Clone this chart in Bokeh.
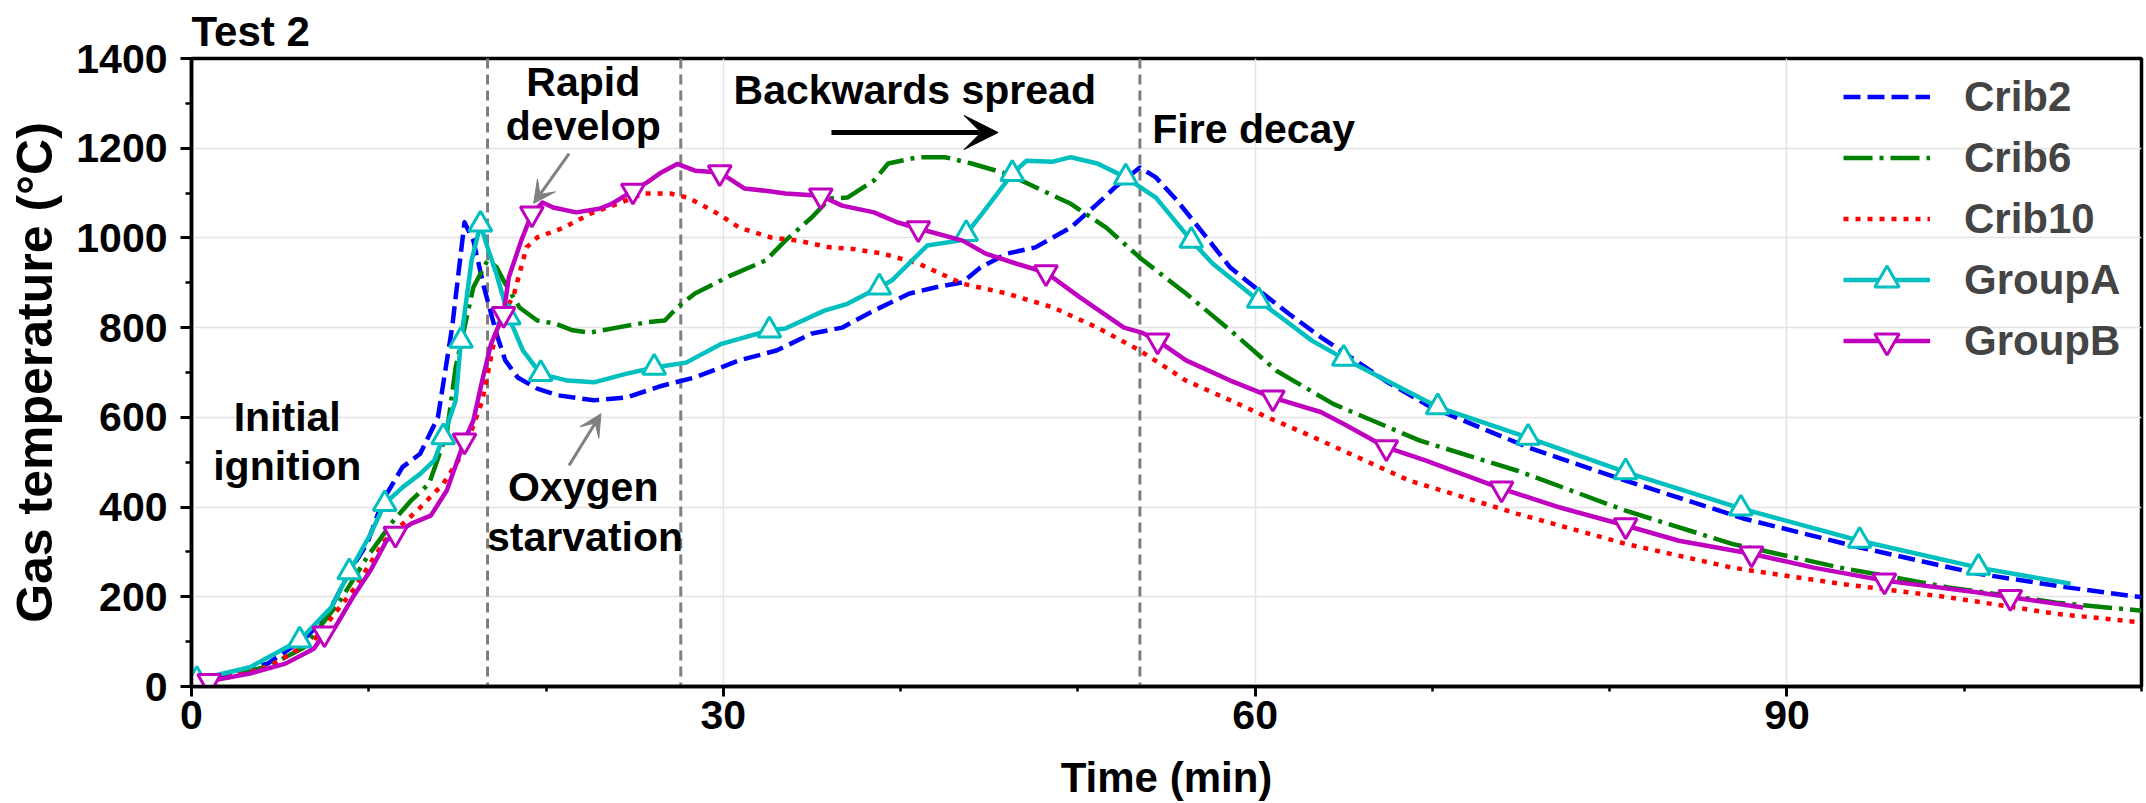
from bokeh.plotting import figure
from bokeh.models import Range1d, FixedTicker, Span, Label, Arrow, VeeHead, Legend, LegendItem
from bokeh.embed import file_html
from bokeh.resources import INLINE

FONT = "Liberation Sans"

# ---------------- data ----------------
crib2_t = [0, 1, 2.3, 4.3, 6.4, 7.7, 8.9, 9.9, 10.8, 11.9, 12.9, 13.9, 14.7, 15.4, 15.9, 16.5, 17.2, 17.7,
           18.4, 19.5, 20.7, 22.7, 24.5, 26.5, 28.4, 30.9, 33.0, 35.0, 36.7, 38.5, 40.5, 42.0, 43.5, 44.5,
           46.0, 47.6, 49.6, 51.1, 52.1, 53.5, 54.4, 55.6, 57.1, 58.6, 60.2, 61.9, 63.7, 65.4, 67.4, 69.9,
           75.4, 80.9, 87.6, 94.0, 100.7, 105.8, 110]
crib2_v = [12, 18, 31, 51, 107, 162, 255, 318, 415, 489, 519, 600, 800, 1035, 994, 890, 787, 727,
           689, 664, 649, 638, 644, 670, 689, 727, 749, 787, 800, 838, 876, 890, 901, 934,
           965, 979, 1023, 1076, 1113, 1157, 1135, 1083, 1009, 934, 883, 831, 779, 734, 680, 623,
           533, 459, 374, 311, 252, 221, 199]

crib6_t = [0, 2, 4.3, 6.35, 8.4, 9.9, 11.4, 12.4, 13.4, 14.4, 14.9, 15.9, 16.7, 17.2, 17.7, 18.5, 19.5,
           20.5, 21.5, 22.5, 24.0, 25.7, 26.7, 27.4, 28.4, 30.4, 32.4, 33.5, 35.0, 36.0, 37.0, 38.5, 39.3,
           41.0, 42.5, 44.0, 46.0, 49.6, 51.6, 53.5, 56.1, 58.6, 61.2, 64.4, 69.3, 74.8, 80.9, 86.9, 93.0,
           99.1, 105.2, 110]
crib6_v = [10, 22, 45, 87, 192, 288, 370, 415, 452, 564, 711, 890, 950, 935, 898, 845, 816,
           809, 794, 789, 800, 812, 816, 845, 876, 916, 950, 994, 1046, 1088, 1090, 1128, 1166,
           1180, 1180, 1166, 1143, 1076, 1023, 956, 876, 794, 704, 630, 548, 481, 392, 318, 265,
           221, 187, 169]

crib10_t = [0, 2, 4.3, 6.9, 9.1, 10.9, 12.9, 14.2, 15.4, 16.4, 17.2, 18.2, 18.9, 19.5, 21.0, 22.5, 24.5,
            25.5, 27.0, 28.0, 29.7, 30.9, 32.7, 34.2, 36.0, 37.2, 39.0, 41.0, 43.5, 46.0, 48.6, 51.1, 53.5,
            56.1, 58.6, 60.7, 62.6, 68.7, 74.8, 80.9, 86.9, 93.0, 99.1, 105.2, 110]
crib10_v = [8, 20, 43, 103, 214, 325, 399, 452, 526, 637, 794, 876, 979, 1001, 1023, 1054, 1083,
            1099, 1099, 1090, 1054, 1023, 1001, 994, 979, 976, 965, 943, 898, 876, 845, 800, 749,
            682, 638, 600, 568, 459, 385, 318, 265, 229, 199, 162, 143]

groupA_t = [0.3, 3.3, 6.1, 7.9, 8.9, 10.1, 10.9, 11.9, 12.9, 13.7, 14.2, 14.9, 15.2, 15.8, 16.3, 16.7,
            17.2, 17.9, 18.7, 19.7, 21.2, 22.7, 24.5, 26.1, 27.9, 29.9, 32.6, 33.5, 35.7, 37.0, 38.8,
            39.5, 41.5, 43.3, 43.7, 44.6, 46.3, 47.1, 48.6, 49.6, 51.1, 52.7, 54.4, 56.4, 57.6, 60.2,
            61.7, 63.2, 65.0, 70.3, 75.4, 80.9, 87.4, 94.1, 100.8, 106.0]
groupA_v = [15, 43, 103, 177, 255, 340, 407, 444, 474, 504, 556, 637, 771, 950, 1030, 979,
            920, 823, 749, 697, 682, 678, 697, 711, 722, 764, 794, 798, 838, 853, 890,
            905, 983, 994, 1009, 1054, 1143, 1172, 1170, 1180, 1166, 1135, 1090, 994, 943, 860,
            816, 771, 731, 623, 555, 478, 397, 325, 265, 229]
groupA_mark_t = [0.3, 6.1, 8.9, 10.9, 14.2, 15.2, 16.3, 17.9, 19.7, 26.1, 32.6, 38.8, 43.7, 46.3,
                 52.7, 56.4, 60.2, 65.0, 70.3, 75.4, 80.9, 87.4, 94.1, 100.8]
groupA_mark_v = [15, 103, 255, 407, 556, 771, 1030, 823, 697, 711, 794, 890, 1009, 1143,
                 1135, 994, 860, 731, 623, 555, 478, 397, 325, 265]

groupB_t = [1.0, 3.3, 5.3, 6.9, 7.5, 8.1, 9.1, 10.1, 11.0, 11.5, 12.4, 13.5, 14.4, 15.4, 15.9, 16.4,
            16.9, 17.6, 17.9, 18.6, 19.2, 19.8, 20.4, 21.7, 23.0, 23.7, 24.9, 25.7, 26.5, 27.4, 28.4,
            29.8, 31.2, 32.4, 33.5, 35.5, 36.7, 38.5, 39.8, 41.0, 43.5, 44.8, 46.5, 48.2, 50.1, 52.6,
            53.6, 54.5, 56.1, 58.6, 61.0, 63.7, 65.0, 67.4, 69.6, 73.9, 77.2, 80.9, 83.9, 88.0, 91.5,
            95.5, 100.7, 102.6, 106.7]
groupB_v = [12, 29, 51, 84, 118, 132, 199, 259, 325, 340, 363, 381, 437, 548, 593, 682,
            764, 830, 912, 994, 1054, 1079, 1068, 1057, 1065, 1076, 1105, 1124, 1146, 1165, 1150,
            1146, 1110, 1105, 1099, 1094, 1072, 1057, 1035, 1021, 994, 965, 943, 923, 868, 800,
            789, 771, 727, 682, 644, 612, 585, 533, 504, 441, 399, 359, 325, 296, 265,
            236, 210, 199, 176]
groupB_mark_t = [1.0, 7.5, 11.5, 15.4, 17.6, 19.2, 24.9, 29.8, 35.5, 41.0, 48.2, 54.5, 61.0, 67.4,
                 73.9, 80.9, 88.0, 95.5, 102.6]
groupB_mark_v = [12, 118, 340, 548, 830, 1054, 1105, 1146, 1094, 1021, 923, 771, 644, 533,
                 441, 359, 296, 236, 199]

phase_bounds = [16.7, 27.6, 53.5]

x_major = [0, 30, 60, 90]
x_minor = [10, 20, 40, 50, 70, 80, 100, 110]
y_major = [0, 200, 400, 600, 800, 1000, 1200, 1400]
y_minor = [100, 300, 500, 700, 900, 1100, 1300]

ann_texts = ["Initial", "ignition", "Rapid", "develop", "Oxygen", "starvation", "Backwards spread", "Fire decay"]
ann_x = [5.4, 5.4, 22.1, 22.1, 22.1, 22.2, 40.8, 54.2]
ann_y = [600, 492, 1348, 1250, 444, 334, 1330, 1242]
ann_align = ["center", "center", "center", "center", "center", "center", "center", "left"]

# arrows: (x_start, y_start, x_end, y_end)
gray_arrows = [(21.3, 1188, 19.3, 1077), (21.3, 493, 23.1, 608)]
black_arrow = (36.1, 1235, 45.5, 1235)

# ---------------- figure ----------------
p = figure(width=2146, height=803,
           min_border_left=191, min_border_right=5, min_border_top=58, min_border_bottom=117,
           x_range=Range1d(0, 110), y_range=Range1d(0, 1400),
           output_backend="svg", toolbar_location=None)
p.background_fill_color = "white"
p.border_fill_color = "white"
p.outline_line_color = "black"
p.outline_line_width = 3.5
p.outline_line_alpha = 1.0

p.title.text = "Test 2"
p.title.align = "left"
p.title.text_font = FONT
p.title.text_font_style = "bold"
p.title.text_font_size = "42px"
p.title.text_color = "black"
p.title.standoff = 8

p.xaxis.ticker = FixedTicker(ticks=x_major, minor_ticks=x_minor)
p.yaxis.ticker = FixedTicker(ticks=y_major, minor_ticks=y_minor)

for ax in (p.xaxis[0], p.yaxis[0]):
    ax.axis_line_width = 3.5
    ax.axis_line_color = "black"
    ax.major_tick_line_width = 3
    ax.minor_tick_line_width = 2.5
    ax.major_tick_in = 0
    ax.minor_tick_in = 0
    ax.major_label_text_font = FONT
    ax.major_label_text_font_style = "bold"
    ax.major_label_text_font_size = "41px"
    ax.major_label_text_color = "black"
    ax.axis_label_text_font = FONT
    ax.axis_label_text_font_style = "bold"
    ax.axis_label_text_color = "black"

p.xaxis.axis_label = "Time (min)"
p.xaxis.axis_label_text_font_size = "42px"
p.xaxis.major_tick_out = 10
p.xaxis.minor_tick_out = 5
p.xaxis.major_label_standoff = 4
p.xaxis.axis_label_standoff = 22

p.yaxis.axis_label = "Gas temperature (°C)"
p.yaxis.axis_label_text_font_size = "50px"
p.yaxis.major_tick_out = 11
p.yaxis.minor_tick_out = 6
p.yaxis.major_label_standoff = 13
p.yaxis.axis_label_standoff = 10

p.grid.grid_line_color = "#e4e4e4"
p.grid.grid_line_width = 1.5

for xb in phase_bounds:
    p.add_layout(Span(location=xb, dimension="height", line_color="#7f7f7f",
                      line_width=3, line_dash="10 6", level="underlay"))

r2 = p.line(crib2_t, crib2_v, line_color="#0000ff", line_width=4.5, line_dash="17 7", line_join="round")
r6 = p.line(crib6_t, crib6_v, line_color="#008000", line_width=4.5, line_dash="29 7 4 7", line_join="round")
r10 = p.line(crib10_t, crib10_v, line_color="#ff0000", line_width=4.5, line_dash="5 7", line_join="round")
rA = p.line(groupA_t, groupA_v, line_color="#00bfbf", line_width=4.5, line_join="round")
mA = p.scatter(groupA_mark_t, groupA_mark_v, marker="triangle", size=23, fill_color="white",
               line_color="#00bfbf", line_width=3)
rB = p.line(groupB_t, groupB_v, line_color="#bf00bf", line_width=4.5, line_join="round")
mB = p.scatter(groupB_mark_t, groupB_mark_v, marker="inverted_triangle", size=23, fill_color="white",
               line_color="#bf00bf", line_width=3)

# legend location tuple = bottom-left corner of the legend box, in px from the frame's bottom-left
legend = Legend(items=[
    LegendItem(label="Crib2", renderers=[r2]),
    LegendItem(label="Crib6", renderers=[r6]),
    LegendItem(label="Crib10", renderers=[r10]),
    LegendItem(label="GroupA", renderers=[rA, mA]),
    LegendItem(label="GroupB", renderers=[rB, mB]),
], location=(1652, 315))
legend.border_line_alpha = 0
legend.background_fill_alpha = 0
legend.label_text_font = FONT
legend.label_text_font_style = "bold"
legend.label_text_font_size = "42px"
legend.glyph_width = 87
legend.glyph_height = 61
legend.label_height = 61
legend.label_standoff = 34
legend.spacing = 0
legend.padding = 0
legend.margin = 0
p.add_layout(legend)

for t, x, y, al in zip(ann_texts, ann_x, ann_y, ann_align):
    p.add_layout(Label(x=x, y=y, text=t, text_align=al, text_baseline="alphabetic",
                       text_font=FONT, text_font_style="bold", text_font_size="41px",
                       text_color="black"))

for (xs, ys, xe, ye) in gray_arrows:
    p.add_layout(Arrow(x_start=xs, y_start=ys, x_end=xe, y_end=ye, line_color="#808080", line_width=3,
                       end=VeeHead(size=22, fill_color="#808080", line_color="#808080", line_width=1)))
p.add_layout(Arrow(x_start=black_arrow[0], y_start=black_arrow[1], x_end=black_arrow[2], y_end=black_arrow[3],
                   line_color="black", line_width=5,
                   end=VeeHead(size=34, fill_color="black", line_color="black", line_width=1)))

open("out.html", "w").write(file_html(p, INLINE))
